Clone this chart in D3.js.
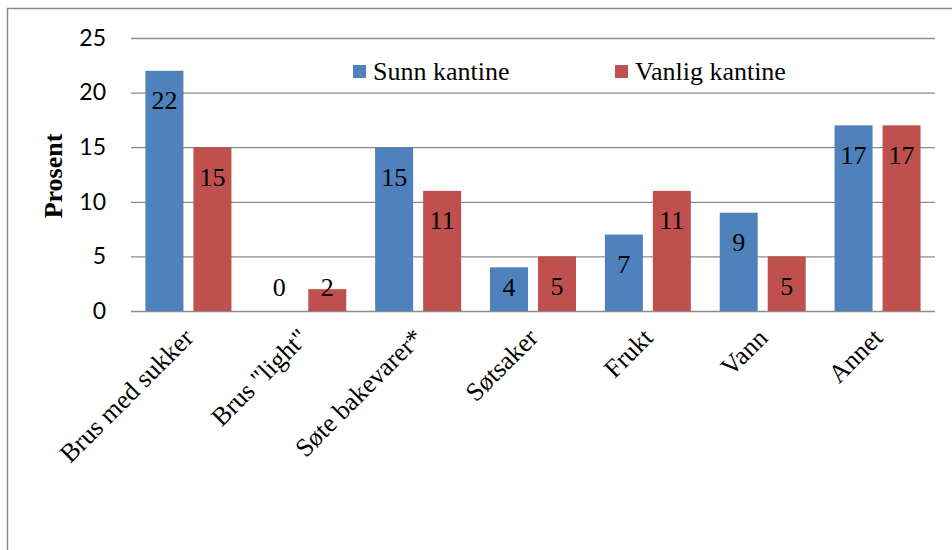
<!DOCTYPE html>
<html>
<head>
<meta charset="utf-8">
<script src="https://cdn.jsdelivr.net/npm/d3@7/dist/d3.min.js"></script>
<style>
  html, body { margin: 0; padding: 0; background: #fff; }
  svg { display: block; }
</style>
</head>
<body>
<svg id="chart" width="952" height="550"></svg>
<script>
// Kategorier og andel (prosent) per kantinetype
const categories = ["Brus med sukker", "Brus \"light\"", "Søte bakevarer*", "Søtsaker", "Frukt", "Vann", "Annet"];
const seriesNames = ["Sunn kantine", "Vanlig kantine"];
const sunnValues = [22, 0, 15, 4, 7, 9, 17];
const vanligValues = [15, 2, 11, 5, 11, 5, 17];
const yTicks = [0, 5, 10, 15, 20, 25];
const colors = ["#4F81BD", "#C0504D"];

const seriesValues = [sunnValues, vanligValues];
const SERIF = '"Liberation Serif"';
const SANS = '"Lato"';

const svg = d3.select("#chart");
const W = 952, H = 550;

// Chart area frame
svg.append("rect")
  .attr("x", 7.5).attr("y", 8.5)
  .attr("width", W).attr("height", H)
  .attr("fill", "#fff")
  .attr("stroke", "#8a8a8a")
  .attr("stroke-width", 1.5);

const plot = { left: 131, right: 935, top: 38, bottom: 311 };

const x0 = d3.scaleBand().domain(categories).range([plot.left, plot.right]).padding(0);
const x1 = d3.scaleBand().domain(seriesNames).range([0, x0.bandwidth()])
  .paddingInner(0.2083).paddingOuter(0.3005);
const y = d3.scaleLinear().domain([0, 25]).range([plot.bottom, plot.top]);

// Gridlines + y tick labels
const yAxis = d3.axisLeft(y)
  .tickValues(yTicks)
  .tickSize(-(plot.right - plot.left))
  .tickPadding(25)
  .tickFormat(d3.format("d"));

const gy = svg.append("g")
  .attr("transform", `translate(${plot.left},0)`)
  .call(yAxis);
gy.select(".domain").remove();
gy.selectAll(".tick line").attr("stroke", "#8c8c8c").attr("stroke-width", 1.3);
gy.selectAll(".tick text")
  .style("font-family", SANS)
  .style("font-size", "23px")
  .attr("fill", "#000");

// Bars
const groups = svg.append("g").selectAll("g")
  .data(categories)
  .join("g")
  .attr("transform", d => `translate(${x0(d)},0)`);

const cells = groups.selectAll("g")
  .data((c, i) => seriesNames.map((s, k) => ({ s, k, v: seriesValues[k][i] })))
  .join("g");

cells.append("rect")
  .attr("x", d => x1(d.s))
  .attr("y", d => y(d.v))
  .attr("width", x1.bandwidth())
  .attr("height", d => y(0) - y(d.v))
  .attr("fill", d => colors[d.k]);

// Value labels, inside the bar end, kept above the baseline
cells.append("text")
  .attr("x", d => x1(d.s) + x1.bandwidth() / 2)
  .attr("y", d => Math.min(y(d.v) + 29.5, y(0) - 24))
  .attr("dy", "0.35em")
  .attr("text-anchor", "middle")
  .style("font-family", SERIF)
  .style("font-size", "26px")
  .attr("fill", "#000")
  .text(d => d.v);

// Category labels, rotated
svg.append("g").selectAll("text")
  .data(categories)
  .join("text")
  .attr("transform", d => `translate(${x0(d) + x0.bandwidth() / 2},${333}) rotate(-45)`)
  .attr("text-anchor", "end")
  .attr("dy", "0.35em")
  .style("font-family", SERIF)
  .style("font-size", "26px")
  .attr("fill", "#000")
  .text(d => d);

// Y axis title
svg.append("text")
  .attr("transform", "translate(62,176) rotate(-90)")
  .attr("text-anchor", "middle")
  .style("font-family", SERIF)
  .style("font-weight", "bold")
  .style("font-size", "26px")
  .attr("fill", "#000")
  .text("Prosent");

// Legend
const legendX = [353, 615];
const legend = svg.append("g").selectAll("g")
  .data(seriesNames)
  .join("g")
  .attr("transform", (d, i) => `translate(${legendX[i]},65)`);
legend.append("rect")
  .attr("width", 13).attr("height", 13)
  .attr("fill", (d, i) => colors[i]);
legend.append("text")
  .attr("x", 20).attr("y", 15)
  .style("font-family", SERIF)
  .style("font-size", "26px")
  .attr("fill", "#000")
  .text(d => d);
</script>
</body>
</html>
